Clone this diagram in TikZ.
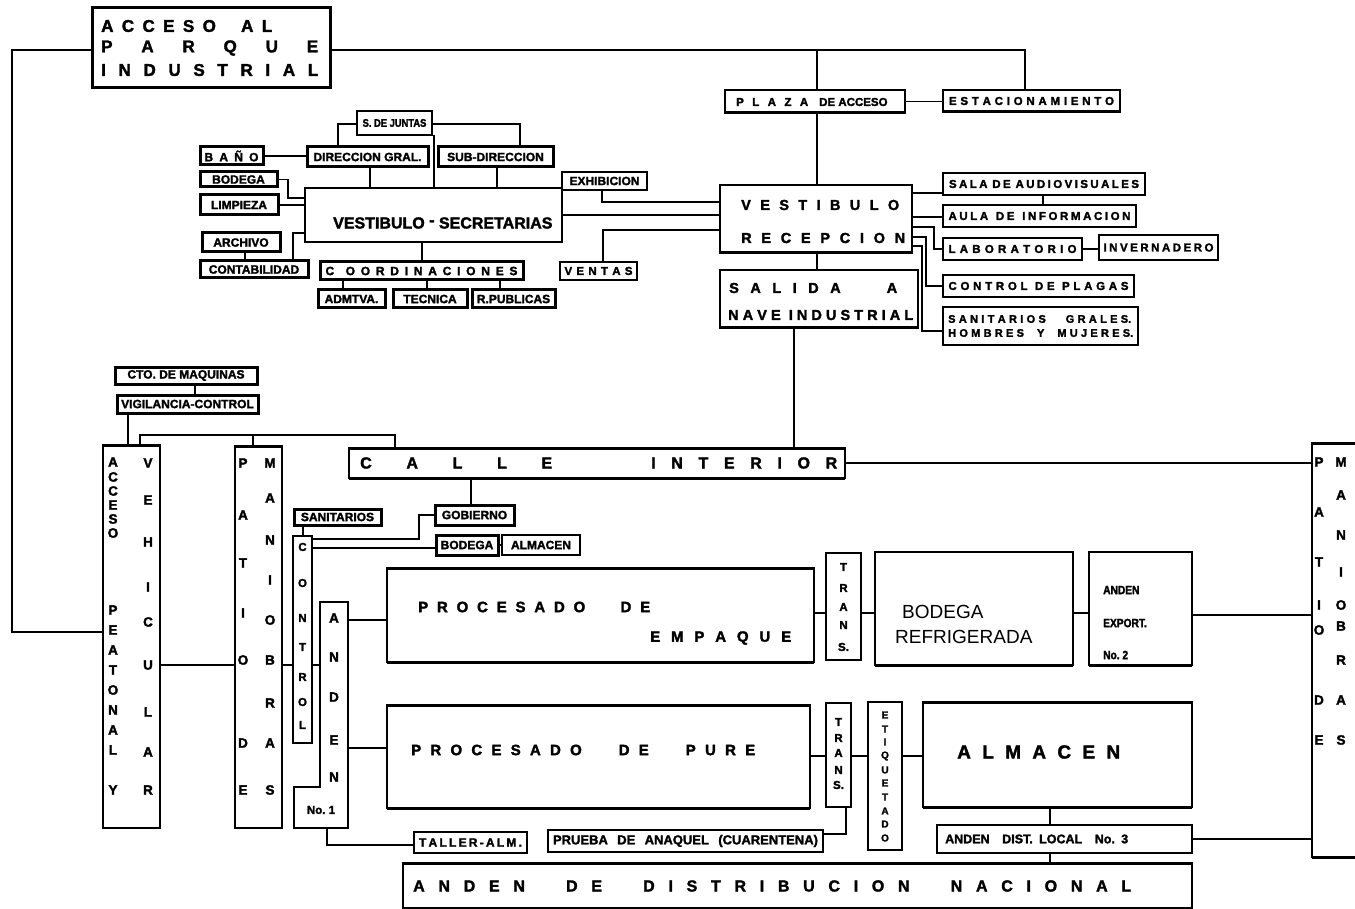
\documentclass[tikz,border=0pt]{standalone}
\usepackage{fontspec}
\setmainfont{Liberation Sans}[BoldFeatures={FakeBold=2}]
\newfontfamily\cnd{Liberation Sans}[FakeStretch=0.85,BoldFeatures={FakeBold=2}]
\frenchspacing
\newcommand\spr[2]{\makebox[#1pt][s]{#2}}
\newcommand\fz[1]{\fontsize{#1}{#1}\selectfont}
\newcommand\bx[7]{\node[#2,minimum width={#5-#3},minimum height={#6-#4}] (#1) at ({(#3+#5)/2},{(#4+#6)/2}) {#7};}
\begin{document}
\begin{tikzpicture}[x=1pt,y=-1pt,
  bxs/.style={draw,line width=1.8pt,inner sep=0pt,outer sep=0pt,font=\bfseries\fz{11.5}},
  hvy/.style={bxs,line width=3pt,font=\bfseries\fz{12}},
  ln/.style={line width=1.4pt},
  edge/.style={line width=3pt},
  lt/.style={inner sep=0pt,font=\bfseries\fz{13.5}},
  lts/.style={inner sep=0pt,font=\bfseries\fz{11.5}},
  tx/.style={inner sep=0pt,anchor=west}]
\useasboundingbox (0,0) rectangle (1355,909);
\clip (0,0) rectangle (1355,909);
% ---------- top
\bx{acceso}{bxs,line width=3pt}{92}{8}{330}{88}{}
\node[tx,font=\bfseries\fz{17}] (ac1) at (101,26) {\spr{171}{A C C E S O\ \ \ A L}};
\node[tx,font=\bfseries\fz{17}] (ac2) at (101,48) {\spr{217}{P A R Q U E}};
\node[tx,font=\bfseries\fz{17}] (ac3) at (101,70) {\spr{217}{I N D U S T R I A L}};
\bx{plaza}{bxs,line width=2.2pt}{725}{90}{905}{113}{}
\node[tx,font=\bfseries\fz{11.5}] (pl) at (736,102) {\spr{72}{P L A Z A}\hspace{11pt}DE ACCESO};
\bx{estac}{bxs,line width=2.2pt}{943}{90}{1120}{112}{\spr{165}{E S T A C I O N A M I E N T O}}
% ---------- admin
\bx{juntas}{bxs,line width=1.3pt,font=\cnd\bfseries\fz{11}}{357}{111}{432}{135}{S. DE JUNTAS}
\bx{direccion}{hvy}{307}{147}{428}{167}{DIRECCION GRAL.}
\bx{subdir}{hvy}{438}{147}{553}{167}{SUB-DIRECCION}
\bx{bano}{hvy}{200}{147}{263}{165}{\spr{54}{B A Ñ O}}
\bx{bodega}{hvy}{200}{172}{277}{187}{BODEGA}
\bx{limpieza}{hvy}{200}{195}{278}{215}{LIMPIEZA}
\bx{vsec}{bxs,line width=2pt}{305}{188}{562}{242}{}
\node[tx,font=\bfseries\fz{16}] (vst) at (333,223) {VESTIBULO \raisebox{3pt}{-} SECRETARIAS};
\bx{archivo}{hvy}{202}{233}{280}{252}{ARCHIVO}
\bx{contab}{hvy}{200}{261}{308}{278}{CONTABILIDAD}
\bx{coord}{hvy}{320}{262}{523}{280}{\spr{192}{C\ \ O O R D I N A C I O N E S}}
\bx{admtva}{hvy}{318}{290}{385}{308}{ADMTVA.}
\bx{tecnica}{hvy}{393}{290}{467}{308}{TECNICA}
\bx{rpub}{hvy}{472}{290}{555}{308}{R.PUBLICAS}
\bx{exhib}{bxs,line width=2pt,font=\bfseries\fz{12}}{562}{172}{647}{190}{EXHIBICION}
\bx{ventas}{bxs,line width=2.4pt}{560}{262}{637}{280}{\spr{68}{V E N T A S}}
% ---------- vestibulo
\bx{vest}{bxs,line width=2.4pt}{720}{185}{912}{253}{}
\node[tx,font=\bfseries\fz{14.5}] (ve1) at (741,205) {\spr{158}{V E S T I B U L O}};
\node[tx,font=\bfseries\fz{14.5}] (ve2) at (741,238) {\spr{164}{R E C E P C I O N}};
\bx{salida}{bxs,line width=2.4pt}{720}{270}{918}{328}{}
\node[tx,font=\bfseries\fz{14.5}] (sa1) at (729,288) {\spr{168}{S A L I D A\ \ \ \ A}};
\node[tx,font=\bfseries\fz{14.5}] (sa2) at (728,315) {\spr{185}{N A V E\ \ I N D U S T R I A L}};
\bx{sala}{bxs,line width=2pt}{943}{173}{1145}{195}{\spr{190}{S A L A\ \ D E\ \ A U D I O V I S U A L E S}}
\bx{aula}{bxs,line width=2pt}{943}{205}{1136}{227}{\spr{182}{A U L A\ \ \ D E\ \ \ I N F O R M A C I O N}}
\bx{lab}{bxs,line width=2pt}{943}{238}{1082}{260}{\spr{128}{L A B O R A T O R I O}}
\bx{inv}{bxs,line width=2pt}{1099}{235}{1218}{260}{\spr{110}{I N V E R N A D E R O}}
\bx{plagas}{bxs,line width=2pt}{943}{275}{1134}{297}{\spr{180}{C O N T R O L\ \ D E\ \ P L A G A S}}
\bx{sanit}{bxs,line width=2pt}{943}{307}{1138}{345}{}
\node[tx,font=\bfseries\fz{11}] (sn1) at (948,319) {\spr{183}{S A N I T A R I O S\ \ \ \ \ \ G R A L E S.}};
\node[tx,font=\bfseries\fz{11}] (sn2) at (948,333) {\spr{185}{H O M B R E S\ \ \ \ Y\ \ \ \ M U J E R E S.}};
% ---------- lower left
\bx{cto}{hvy}{115}{367}{257}{384}{CTO. DE MAQUINAS}
\bx{vigil}{hvy}{117}{395}{258}{413}{VIGILANCIA-CONTROL}
\bx{accpv}{bxs,line width=2pt}{103}{445}{160}{828}{}
\bx{patioa}{bxs,line width=2pt}{235}{446}{282}{828}{}
\bx{calle}{bxs,line width=1.6pt}{349}{448}{845}{478}{}
\node[tx,font=\bfseries\fz{16}] (tc1) at (360,463) {\spr{192}{C A L L E}};
\node[tx,font=\bfseries\fz{16}] (tc2) at (651,463) {\spr{186}{I N T E R I O R}};
\bx{sanitb}{hvy}{294}{509}{381}{525}{SANITARIOS}
\bx{gob}{hvy}{435}{505}{514}{525}{GOBIERNO}
\bx{bodb}{hvy}{436}{535}{498}{555}{BODEGA}
\bx{almb}{hvy,line width=2pt}{502}{535}{580}{555}{ALMACEN}
\bx{control}{bxs,line width=1.8pt}{293}{536}{312}{743}{}
\node[draw=none,inner sep=0pt,outer sep=0pt,minimum width=28,minimum height=226] (anden) at (334,715) {};
\draw[line width=2pt] (anden.north west) -- (anden.north east) -- (anden.south east) -- (294,828) -- (294,787) -- (320,787) -- cycle;
\node[lts] (no1) at (321,810) {No. 1};
% ---------- process
\bx{empaque}{bxs,line width=1.6pt}{387}{568}{814}{662}{}
\node[tx,font=\bfseries\fz{15}] (te1) at (418,607) {\spr{232}{P R O C E S A D O\ \ \ \ D E}};
\node[tx,font=\bfseries\fz{15}] (te2) at (650,638) {\spr{141}{E M P A Q U E}};
\bx{transa}{bxs,line width=2pt}{826}{553}{861}{660}{}
\bx{bodref}{bxs,line width=1.6pt}{875}{552}{1073}{665}{}
\node[tx,font=\fz{19}] (br1) at (902,612) {BODEGA};
\node[tx,font=\fz{19}] (br2) at (895,637) {REFRIGERADA};
\bx{anexp}{bxs,line width=1.6pt}{1089}{552}{1192}{665}{}
\node[tx,font=\cnd\bfseries\fz{12}] (ae1) at (1103,590) {ANDEN};
\node[tx,font=\cnd\bfseries\fz{12}] (ae2) at (1103,623) {EXPORT.};
\node[tx,font=\cnd\bfseries\fz{12}] (ae3) at (1103,655) {No. 2};
\bx{pure}{bxs,line width=1.6pt}{387}{705}{810}{808}{}
\node[tx,font=\bfseries\fz{15}] (tp) at (411,750) {\spr{344}{P R O C E S A D O\ \ \ \ D E\ \ \ \ P U R E}};
\bx{transb}{bxs,line width=2pt}{826}{703}{851}{807}{}
\bx{etiq}{bxs,line width=2pt}{868}{702}{902}{850}{}
\bx{almacen}{bxs,line width=1.6pt}{923}{702}{1192}{807}{}
\node[tx,font=\bfseries\fz{19}] (alt) at (957,752) {\spr{163}{A L M A C E N}};
\bx{anloc}{bxs,line width=1.8pt}{937}{825}{1192}{853}{}
\node[tx,font=\bfseries\fz{12.5}] (alc) at (945,839) {\spr{183}{ANDEN\ \ DIST.\ LOCAL\ \ No.\ 3}};
\bx{annac}{bxs,line width=1.8pt}{403}{863}{1192}{908}{}
\node[tx,font=\bfseries\fz{16}] (ant) at (413,886) {\spr{718}{A N D E N\ \ \ D E\ \ \ D I S T R I B U C I O N\ \ \ N A C I O N A L}};
\bx{taller}{bxs,line width=2.2pt,font=\bfseries\fz{12}}{414}{832}{527}{853}{\spr{103}{T A L L E R - A L M .}}
\bx{prueba}{bxs,line width=2.2pt,font=\bfseries\fz{13}}{548}{830}{823}{852}{\spr{265}{PRUEBA\ DE\ ANAQUEL\ (CUARENTENA)}}
\bx{patiob}{bxs,line width=2pt}{1312}{443}{1390}{857}{}
% ---------- heavier edges (ink shadow)
\draw[edge] (acceso.south west) -- (acceso.south east) -- (acceso.north east);
\draw[edge] (plaza.south west) -- (plaza.south east);
\draw[edge] (estac.south west) -- (estac.south east);
\draw[edge] (vest.south west) -- (vest.south east);
\draw[edge] (salida.south west) -- (salida.south east);
\draw[edge] (calle.north west) -- (calle.north east);
\draw[edge] (calle.south west) -- (calle.south east);
\draw[edge] (empaque.north west) -- (empaque.north east);
\draw[edge] (empaque.south west) -- (empaque.south east);
\draw[edge] (pure.north west) -- (pure.north east);
\draw[edge] (pure.south west) -- (pure.south east);
\draw[edge] (bodref.south west) -- (bodref.south east);
\draw[edge] (anexp.south west) -- (anexp.south east);
\draw[edge] (almacen.north west) -- (almacen.north east);
\draw[edge] (almacen.south west) -- (almacen.south east);
\draw[edge] (annac.north west) -- (annac.north east);
\draw[edge] (accpv.north west) -- (accpv.north east);
\draw[edge] (patioa.north west) -- (patioa.north east);
\draw[edge] (patiob.north west) -- (patiob.north east);
\draw[edge] (patiob.south west) -- (patiob.south east);
% ---------- vertical letters
\foreach \c/\yy [count=\k] in {A/462,C/477,C/491,E/505,S/519,O/533,P/610,E/630,A/650,T/670,O/690,N/710,A/730,L/750,Y/790}
  \node[lt] (avl\k) at (113,\yy) {\c};
\foreach \c/\yy [count=\k] in {V/463,E/500,H/542,I/587,C/622,U/665,L/712,A/752,R/790}
  \node[lt] (avr\k) at (148,\yy) {\c};
\foreach \c/\yy [count=\k] in {P/463,A/515,T/563,I/613,O/660,D/743,E/790}
  \node[lt] (pal\k) at (243,\yy) {\c};
\foreach \c/\yy [count=\k] in {M/463,A/498,N/540,I/580,O/620,B/660,R/703,A/743,S/790}
  \node[lt] (par\k) at (270,\yy) {\c};
\foreach \c/\yy [count=\k] in {C/547,O/583,N/618,T/647,R/677,O/702,L/725}
  \node[lts] (co\k) at (302.5,\yy) {\c};
\foreach \c/\yy [count=\k] in {A/618,N/657,D/697,E/740,N/777}
  \node[lt] (an\k) at (334,\yy) {\c};
\foreach \c/\yy [count=\k] in {T/567,R/588,A/607,N/625,S./647}
  \node[lts] (ta\k) at (843.5,\yy) {\c};
\foreach \c/\yy [count=\k] in {T/722,R/738,A/753,N/770,S./785}
  \node[lts] (tb\k) at (838.5,\yy) {\c};
\foreach \c/\yy [count=\k] in {E/715,T/729,I/742,Q/756,U/770,E/783,T/797,A/811,D/824,O/838}
  \node[inner sep=0pt,font=\bfseries\fz{10}] (et\k) at (885,\yy) {\c};
\foreach \c/\yy [count=\k] in {P/462,A/512,T/562,I/605,O/630,D/700,E/740}
  \node[lt] (pbl\k) at (1319,\yy) {\c};
\foreach \c/\yy [count=\k] in {M/462,A/495,N/535,I/572,O/605,B/626,R/660,A/700,S/740}
  \node[lt] (pbr\k) at (1341,\yy) {\c};
% ---------- connectors
\draw[ln] (acceso.west |- 0,50) -| (12,632) -- (accpv.west |- 0,632);
\draw[ln] (acceso.east |- 0,50) -- (1025,50) -- (estac.north -| 1025,0);
\draw[ln] (plaza.north -| 817,0) -- (817,50);
\draw[ln] (plaza.east) -- (estac.west |- plaza.east);
\draw[ln] (plaza.south -| 817,0) -- (vest.north -| 817,0);
\draw[ln] (juntas.west |- 0,124) -| (direccion.north -| 338,0);
\draw[ln] (juntas.east |- 0,124) -| (subdir.north -| 520,0);
\draw[ln] (juntas.south -| 434,0) -- (vsec.north -| 434,0);
\draw[ln] (bano.east) -- (direccion.west |- bano.east);
\draw[ln] (bodega.east) -| (288,198) -- (vsec.west |- 0,198);
\draw[ln] (limpieza.east) -- (vsec.west |- limpieza.east);
\draw[ln] (direccion.south -| 370,0) -- (vsec.north -| 370,0);
\draw[ln] (subdir.south -| 497,0) -- (vsec.north -| 497,0);
\draw[ln] (archivo.south -| 245,0) -- (contab.north -| 245,0);
\draw[ln] (vsec.west |- 0,233) -| (contab.north -| 293,0);
\draw[ln] (vsec.south -| 422,0) -- (coord.north -| 422,0);
\draw[ln] (coord.south -| 343,0) -- (admtva.north -| 343,0);
\draw[ln] (coord.south -| 427,0) -- (tecnica.north -| 427,0);
\draw[ln] (coord.south -| 500,0) -- (rpub.north -| 500,0);
\draw[ln] (exhib.south -| 602,0) |- (vest.west |- 0,202);
\draw[ln] (vsec.east |- 0,215) -- (vest.west |- 0,215);
\draw[ln] (ventas.north -| 603,0) |- (vest.west |- 0,230);
\draw[ln] (vest.east |- 0,193) -- (sala.west |- 0,193);
\draw[ln] (vest.east |- 0,217) -- (aula.west |- 0,217);
\draw[ln] (vest.east |- 0,227) -| (934,249) -- (lab.west);
\draw[ln] (vest.east |- 0,237) -| (926,286) -- (plagas.west);
\draw[ln] (vest.east |- 0,246) -| (922,331) -- (sanit.west |- 0,331);
\draw[ln] (sala.south -| 1043,0) -- (aula.north -| 1043,0);
\draw[ln] (lab.east) -- (inv.west |- lab.east);
\draw[ln] (vest.south -| 817,0) -- (salida.north -| 817,0);
\draw[ln] (salida.south -| 794,0) -- (calle.north -| 794,0);
\draw[ln] (cto.south -| 195,0) -- (vigil.north -| 195,0);
\draw[ln] (vigil.south -| 128,0) -- (accpv.north -| 128,0);
\coordinate (bus) at (253,435);
\draw[ln] (accpv.north -| 140,0) -- (140,435) -- (395,435) -- (calle.north -| 395,0);
\draw[ln] (bus) -- (patioa.north -| bus);
\draw[ln] (accpv.east |- 0,665) -- (patioa.west |- 0,665);
\draw[ln] (patioa.east |- 0,665) -- (control.west |- 0,665);
\draw[ln] (control.east |- 0,665) -- (anden.west |- 0,665);
\draw[ln] (sanitb.south -| 303,0) -- (control.north -| 303,0);
\draw[ln] (control.east |- 0,539) -| (419,515) -- (gob.west |- 0,515);
\draw[ln] (control.east |- 0,548) -- (bodb.west |- 0,548);
\draw[ln] (calle.south -| 471,0) -- (gob.north -| 471,0);
\draw[ln] (bodb.east) -- (almb.west);
\draw[ln] (anden.east |- 0,620) -- (empaque.west |- 0,620);
\draw[ln] (anden.east |- 0,748) -- (pure.west |- 0,748);
\draw[ln] (empaque.east |- 0,613) -- (transa.west |- 0,613);
\draw[ln] (transa.east |- 0,613) -- (bodref.west |- 0,613);
\draw[ln] (bodref.east |- 0,613) -- (anexp.west |- 0,613);
\draw[ln] (anexp.east |- 0,615) -- (patiob.west |- 0,615);
\draw[ln] (calle.east) -- (patiob.west |- calle.east);
\draw[ln] (pure.east |- 0,756) -- (transb.west |- 0,756);
\draw[ln] (transb.east |- 0,756) -- (etiq.west |- 0,756);
\draw[ln] (etiq.east |- 0,756) -- (almacen.west |- 0,756);
\draw[ln] (transb.south -| 846,0) |- (prueba.east |- 0,834);
\draw[ln] (anden.south -| 327,0) |- (taller.west |- 0,845);
\draw[ln] (almacen.south -| 1050,0) -- (anloc.north -| 1050,0);
\draw[ln] (anloc.south -| 1050,0) -- (annac.north -| 1050,0);
\draw[ln] (anloc.east) -- (patiob.west |- anloc.east);
\end{tikzpicture}
\end{document}
